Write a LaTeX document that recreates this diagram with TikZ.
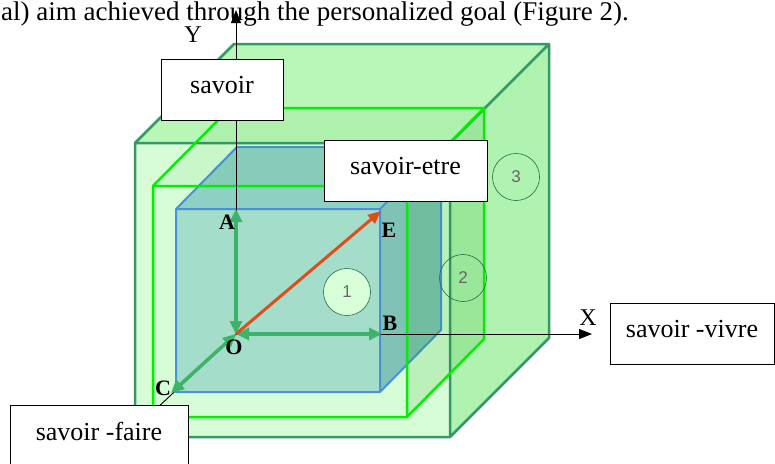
\documentclass[tikz,border=0pt]{standalone}
\usepackage{fontspec}
\setmainfont{Liberation Serif}
\newfontfamily\numfont{Liberation Sans}
\usetikzlibrary{positioning,arrows.meta,calc}

\definecolor{outeredge}{HTML}{339966}
\definecolor{outerfront}{HTML}{D6FDD6}
\definecolor{outertop}{HTML}{B8F7B8}
\definecolor{outerside}{HTML}{B0F2B0}
\definecolor{midedge}{HTML}{00F000}
\definecolor{inneredge}{HTML}{4A92D6}
\definecolor{innerfront}{HTML}{A4DDC9}
\definecolor{innertop}{HTML}{8FD0C4}
\definecolor{innerside}{HTML}{80C2B6}
\definecolor{vecgreen}{HTML}{3DB36B}
\definecolor{vecred}{HTML}{DD4E1C}

\begin{document}
\begin{tikzpicture}[x=1pt, y=-1pt,
  tag/.style={draw=black, fill=white, line width=0.8pt, minimum height=61pt,
              inner sep=0pt, text depth=9pt, font=\fontsize{26}{30}\selectfont},
  ptlbl/.style={inner sep=0pt, font=\bfseries\fontsize{22}{24}\selectfont},
  axislbl/.style={inner sep=0pt, font=\fontsize{24}{26}\selectfont},
  zone/.style={circle, draw=outeredge!70!black, line width=0.6pt, minimum size=47pt,
               inner sep=0pt, text=black!60, font=\numfont\fontsize{17}{18}\selectfont},
  vec/.style={{Triangle[length=13pt,width=12pt]}-{Triangle[length=13pt,width=12pt]},
              vecgreen, line width=3.5pt},
  axis/.style={-{Triangle[length=13pt,width=10pt]}, black, line width=0.9pt},
  cubeedge/.style={line width=2.5pt, line join=round},
]
\useasboundingbox (0,0) rectangle (775,463);
\clip (0,0) rectangle (775,463);

%% ---------- running text above the figure ----------
\node[anchor=base west, inner sep=0pt, font=\fontsize{27}{30}\selectfont] (cap) at (1,20)
  {al) aim achieved through the personalized goal (Figure 2).};

%% ---------- outer cube (3) ----------
\coordinate (o1) at (135,143); \coordinate (o2) at (450,143);
\coordinate (o3) at (450,437); \coordinate (o4) at (135,437);
\coordinate (o5) at (234,44);  \coordinate (o6) at (549,44);
\coordinate (o7) at (549,338);
\fill[outerfront] (o1) rectangle (o3);
\fill[outertop] (o1) -- (o5) -- (o6) -- (o2) -- cycle;
\fill[outerside] (o2) -- (o6) -- (o7) -- (o3) -- cycle;
\draw[outeredge, cubeedge] (o1) rectangle (o3) (o1) -- (o5) -- (o6) -- (o7) -- (o3) (o6) -- (o2);

%% ---------- inner cube (1) ----------
\coordinate (i1) at (176,209); \coordinate (i2) at (380,209);
\coordinate (i3) at (380,392); \coordinate (i4) at (176,392);
\coordinate (i5) at (237,147); \coordinate (i6) at (441,147);
\coordinate (i7) at (441,330);
\fill[innerfront] (i1) rectangle (i3);
\fill[innertop] (i1) -- (i5) -- (i6) -- (i2) -- cycle;
\fill[innerside] (i2) -- (i6) -- (i7) -- (i3) -- cycle;
\draw[inneredge, cubeedge, line width=2pt] (i1) rectangle (i3) (i1) -- (i5) -- (i6) -- (i7) -- (i3) (i6) -- (i2);

%% ---------- middle cube (2) ----------
\coordinate (m1) at (153,186); \coordinate (m2) at (407,186);
\coordinate (m3) at (407,417); \coordinate (m4) at (153,417);
\coordinate (m5) at (230,108); \coordinate (m6) at (484,108);
\coordinate (m7) at (484,339);
\fill[green!60!black, opacity=0.06] (m1) -- (m5) -- (m6) -- (m2) -- cycle;
\fill[green!60!black, opacity=0.12] (m2) -- (m6) -- (m7) -- (m3) -- cycle;
\draw[midedge, cubeedge] (m1) rectangle (m3) (m1) -- (m5) -- (m6) -- (m7) -- (m3) (m6) -- (m2);

%% ---------- axes ----------
\coordinate (O) at (236,334);
\coordinate (ytip) at (236,10);
\coordinate (xtip) at (592,334);
\coordinate (zend) at (155,410);
\draw[axis] (O) -- (ytip);
\draw[axis] (O) -- (xtip);
\draw[black, line width=0.9pt] (O) -- (zend);
\node[axislbl] (ylbl) at (193,35) {Y};
\node[axislbl] (xlbl) at (588,318) {X};

%% ---------- vectors ----------
\coordinate (A) at (236,209);
\coordinate (B) at (382,334);
\coordinate (C) at (171,393);
\coordinate (E) at (381,211);
\draw[vec] (O) -- (A);
\draw[vec] (O) -- (B);
\draw[vec] (O) -- (C);
\draw[-{Triangle[length=13pt,width=11pt]}, vecred, line width=3pt] (O) -- (E);

\node[ptlbl] (lA) at (227,222) {A};
\node[ptlbl] (lE) at (389,230) {E};
\node[ptlbl] (lB) at (390,323) {B};
\node[ptlbl] (lO) at (234,347) {O};
\node[ptlbl] (lC) at (163,388) {C};

%% ---------- zone numbers ----------
\node[zone, fill=green!15!white] (z1) at (347,292) {1};
\node[zone] (z2) at (463,278) {2};
\node[zone] (z3) at (516,177) {3};

%% ---------- labels ----------
\node[tag, minimum width=122pt] (savoir) at (222,89.5) {savoir};
\node[tag, minimum width=163pt] (etre) at (405.5,170.5) {savoir-etre};
\node[tag, minimum width=164pt] (vivre) at (692,333.5) {savoir -vivre};
\node[tag, minimum width=178pt] (faire) at (99,436) {savoir -faire};

\end{tikzpicture}
\end{document}
